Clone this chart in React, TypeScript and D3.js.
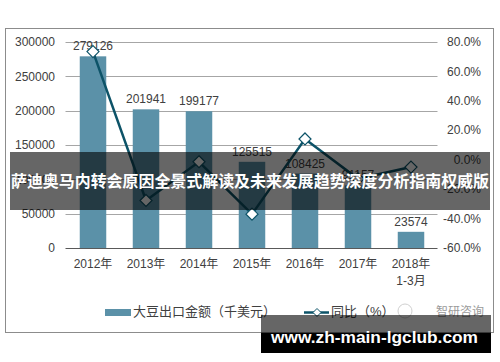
import React from "react";
import * as d3 from "d3";

const categories = ["2012年", "2013年", "2014年", "2015年", "2016年", "2017年", "2018年\n1-3月"];
const exportValues = [279126, 201941, 199177, 125515, 108425, 91157, 23574];
const yoyValues = [73.5, -27.7, -1.4, -37.0, 14.1, -13.0, -5.0];
const leftTicks = [0, 50000, 100000, 150000, 200000, 250000, 300000];
const rightTicks = [-60, -40, -20, 0, 20, 40, 60, 80];
const legendBar = "大豆出口金额（千美元）";
const legendLine = "同比（%）";
const bannerText = "萨迪奥马内转会原因全景式解读及未来发展趋势深度分析指南权威版";
const watermark = "www.zh-main-lgclub.com";
const brand = "智研咨询";

const FONT = "'Liberation Sans', Arial, 'Noto Sans CJK SC', sans-serif";
const BAR = "#5b91a8";
const LINE = "#0d5368";

export default function App() {
  const W = 500, H = 362;
  const plotL = 66.5, plotR = 437.5, plotT = 42, plotB = 248;
  const x = d3.scaleBand<string>().domain(categories).range([plotL, plotR]).paddingInner(0.5).paddingOuter(0.25);
  const yL = d3.scaleLinear().domain([0, 300000]).range([plotB, plotT]);
  const yR = d3.scaleLinear().domain([-60, 80]).range([plotB, plotT]);
  const cx = (c: string) => (x(c) as number) + x.bandwidth() / 2;
  const linePath = d3.line<number>().x((_, i) => cx(categories[i])).y((v) => yR(v))(yoyValues) as string;
  const diamond = (px: number, py: number, r: number) =>
    `M${px},${py - r}L${px + r},${py}L${px},${py + r}L${px - r},${py}Z`;

  return (
    <svg width={W} height={H} style={{ position: "absolute", left: 0, top: 0, background: "#fff" }} fontFamily={FONT}>
      <rect x={0} y={0} width={W} height={H} fill="#fff" />
      <rect x={5.5} y={28.5} width={488} height={304} fill="none" stroke="#8c8c8c" strokeWidth={1} />
      {leftTicks.slice(1).map((t) => (
        <line key={t} x1={plotL - 1} x2={plotR} y1={Math.round(yL(t)) + 0.5} y2={Math.round(yL(t)) + 0.5} stroke="#a6a6a6" strokeWidth={1} />
      ))}
      {leftTicks.map((t) => (
        <text key={"l" + t} x={55} y={yL(t)} dy="0.35em" textAnchor="end" fontSize={12} fill="#404040">{t}</text>
      ))}
      {rightTicks.map((t) => (
        <text key={"r" + t} x={481} y={yR(t)} dy="0.35em" textAnchor="end" fontSize={12} fill="#404040">{t.toFixed(1) + "%"}</text>
      ))}
      {exportValues.map((v, i) => (
        <rect key={i} x={x(categories[i])} y={yL(v)} width={x.bandwidth()} height={plotB - yL(v)} fill={BAR} />
      ))}
      <line x1={plotL - 1} x2={plotR} y1={plotB + 0.5} y2={plotB + 0.5} stroke="#595959" strokeWidth={1} />
      {exportValues.map((v, i) => (
        <text key={"v" + i} x={cx(categories[i])} y={yL(v) - 6} textAnchor="middle" fontSize={12} fill="#404040">{v}</text>
      ))}
      <path d={linePath} fill="none" stroke={LINE} strokeWidth={2.5} />
      {yoyValues.map((v, i) => (
        <path key={"m" + i} d={diamond(cx(categories[i]), yR(v), 6)} fill="#fff" stroke={LINE} strokeWidth={1.2} />
      ))}
      {categories.map((c) => (
        <text key={"c" + c} x={cx(c)} y={268} textAnchor="middle" fontSize={12} fill="#404040">
          {c.split("\n").map((p, j) => (
            <tspan key={j} x={cx(c)} dy={j === 0 ? 0 : 17}>{p}</tspan>
          ))}
        </text>
      ))}
      {/* legend */}
      <rect x={105} y={309} width={26} height={7} fill={BAR} />
      <text x={133} y={316} fontSize={13} fill="#404040">{legendBar}</text>
      <line x1={304} x2={329} y1={312.5} y2={312.5} stroke={LINE} strokeWidth={2.5} />
      <path d={diamond(317, 312.5, 4)} fill="#fff" stroke={LINE} strokeWidth={1} />
      <text x={331} y={316} fontSize={13} fill="#404040">{legendLine}</text>
      <circle cx={405} cy={311} r={7} fill="none" stroke="#d0d0d0" strokeWidth={1} />
      <text x={436} y={316} fontSize={12} fill="#9a9a9a">{brand}</text>
      {/* banner */}
      <rect x={10} y={152} width={480} height={58} fill="rgba(0,0,0,0.6)" />
      <text x={250} y={181} dy="0.35em" textAnchor="middle" fontSize={16} fontWeight="bold" fill="#fff"
        textLength={478} lengthAdjust="spacingAndGlyphs">{bannerText}</text>
      {/* watermark */}
      <rect x={261} y={315} width={230} height={18} fill="rgba(0,0,0,0.6)" />
      <rect x={261} y={333} width={230} height={20} fill="#000" />
      <text x={271} y={343} fontSize={17} fontWeight="bold" fill="#fff" textLength={207} lengthAdjust="spacingAndGlyphs">{watermark}</text>
    </svg>
  );
}
